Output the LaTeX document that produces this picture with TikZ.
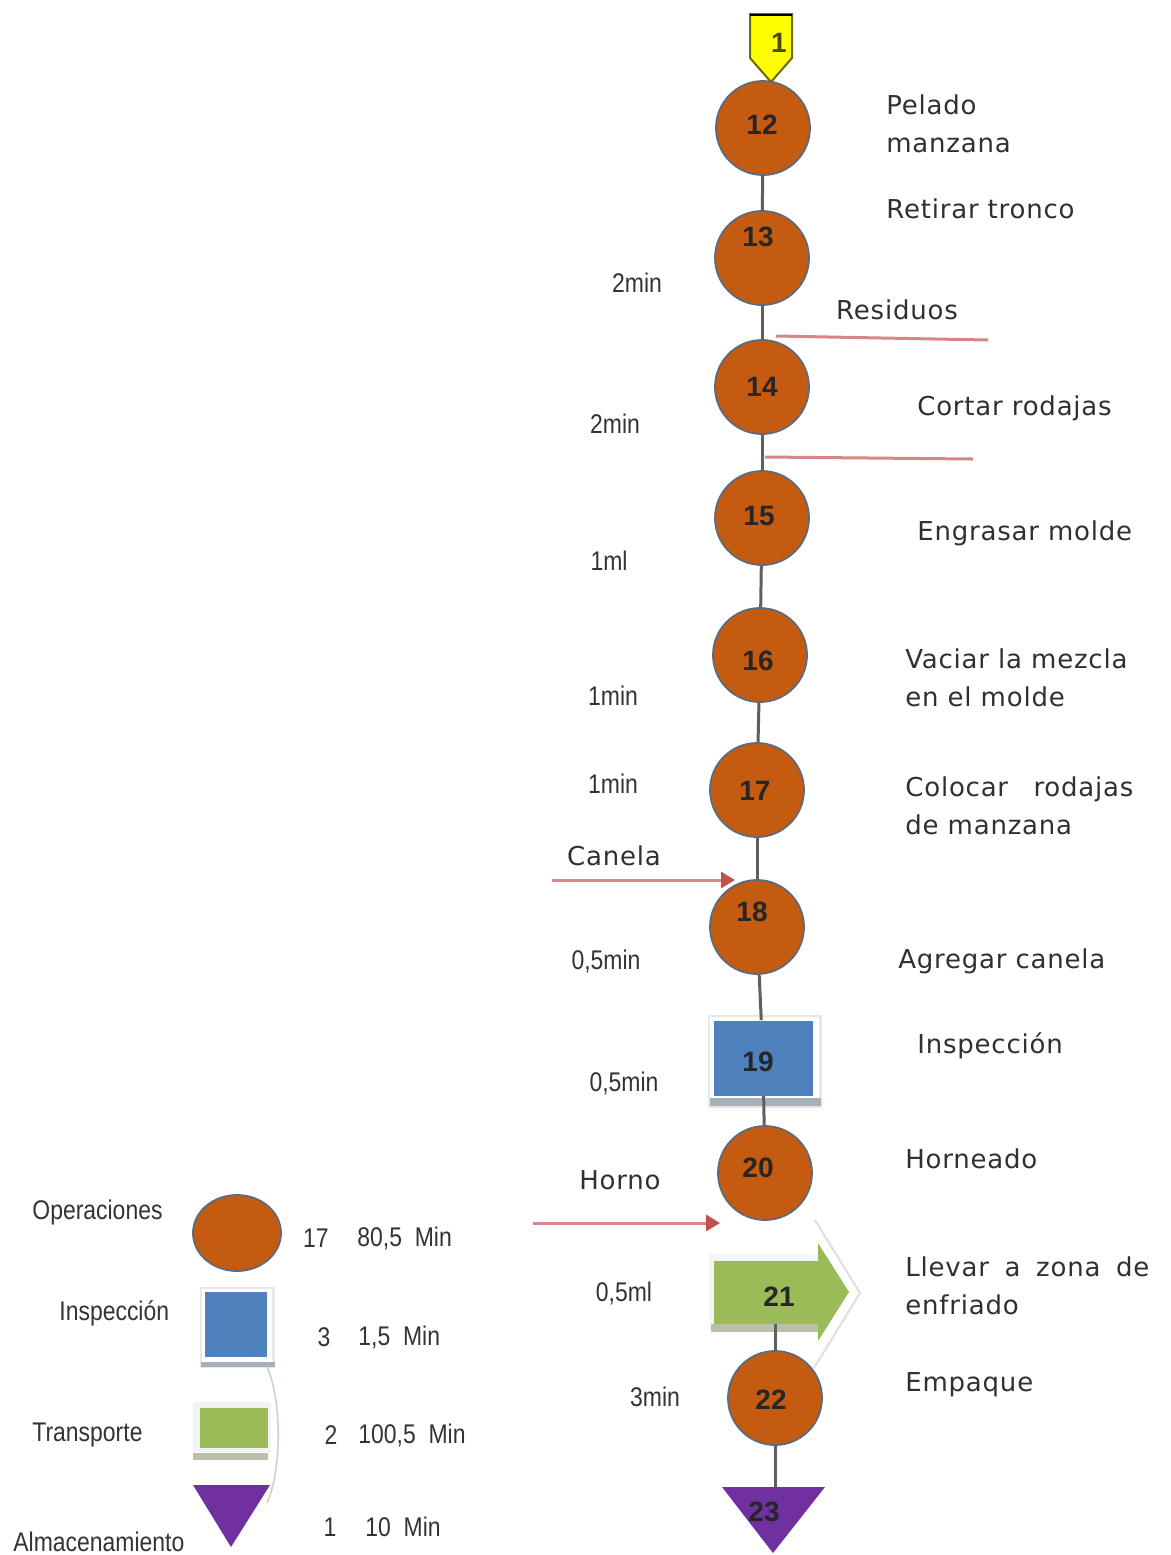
\documentclass[tikz,border=0pt]{standalone}
\usepackage{fontspec}
\setmainfont[LetterSpace=3]{DejaVu Sans}
\newfontfamily\narrowfont[FakeStretch=0.85]{Liberation Sans}
\newfontfamily\numfont{Liberation Sans}
\usetikzlibrary{arrows.meta,shapes.geometric}

\definecolor{opfill}{HTML}{C55A11}
\definecolor{opedge}{HTML}{5B6B7C}
\definecolor{inspblue}{HTML}{4F81BD}
\definecolor{trgreen}{HTML}{9BBB59}
\definecolor{stpurple}{HTML}{7030A0}
\definecolor{startyellow}{HTML}{FFFF00}
\definecolor{startedge}{HTML}{6B6B10}
\definecolor{flowgrey}{HTML}{5F5F5F}
\definecolor{inred}{HTML}{D98585}
\definecolor{tipred}{HTML}{C0504D}
\definecolor{txt}{HTML}{303030}
\definecolor{shadowblue}{HTML}{A7B1BE}
\definecolor{shadowgreen}{HTML}{B9C0A8}

\begin{document}
\begin{tikzpicture}[x=0.5pt,y=-0.5pt,
  op/.style={circle, fill=opfill, draw=opedge, line width=0.9pt,
    minimum size=47pt, inner sep=0pt},
  num/.style={font=\numfont\bfseries\fontsize{14}{14}\selectfont,
    text=black!85, inner sep=0pt},
  flow/.style={draw=flowgrey, line width=1.5pt},
  feed/.style={draw=inred, line width=1.5pt},
  feedarrow/.style={feed, -{Triangle[length=7pt,width=8pt,color=tipred]}},
  desc/.style={anchor=west, font=\fontsize{13}{19}\selectfont, text=txt,
    align=left, inner sep=0pt},
  note/.style={font=\fontsize{13}{16}\selectfont, text=txt, inner sep=0pt},
  time/.style={font=\narrowfont\fontsize{13.5}{14}\selectfont, text=black!80,
    inner sep=0pt},
  legtxt/.style={font=\narrowfont\fontsize{13.5}{14}\selectfont, text=black!80,
    inner sep=0pt},
  ghost/.style={draw=gray!25, line width=1pt}
]
\useasboundingbox[fill=white] (0,0) rectangle (1171,1555);

% ---- start marker ----
\draw[fill=startyellow, draw=startedge, line width=1pt]
  (750,14) -- (792,14) -- (792,58) -- (771,82) -- (750,58) -- cycle;
\draw[black, line width=1.2pt] (750,15) -- (792,15);
\node[num, text=startedge!70!black] (n1) at (779,43) {1};

% ---- operations ----
\node[op] (n12) at (763,128) {};
\node[num] (l12) at (762,125) {12};
\node[op] (n13) at (762,258) {};
\node[num] (l13) at (758,237) {13};
\node[op] (n14) at (762,387) {};
\node[num] (l14) at (762,387) {14};
\node[op] (n15) at (762,518) {};
\node[num] (l15) at (759,516) {15};
\node[op] (n16) at (760,655) {};
\node[num] (l16) at (758,661) {16};
\node[op] (n17) at (757,790) {};
\node[num] (l17) at (755,791) {17};
\node[op] (n18) at (757,927) {};
\node[num] (l18) at (752,912) {18};

% ---- inspection ----
\fill[gray!18] (708,1015) rectangle (822,1108);
\fill[white] (710,1017) rectangle (819,1099);
\fill[shadowblue] (710,1098) rectangle (821,1106);
\node[fill=inspblue, minimum width=49.5pt, minimum height=37.5pt,
  inner sep=0pt] (n19) at (763,1058) {};
\node[num] (l19) at (758,1062) {19};

\node[op] (n20) at (765,1173) {};
\node[num] (l20) at (758,1168) {20};

% ---- transport ----
\draw[ghost] (815,1220) -- (860,1293) -- (814,1368);
\fill[gray!8] (709,1254) rectangle (822,1330);
\fill[shadowgreen] (711,1324) rectangle (818,1332);
\node[fill=trgreen, minimum width=52.5pt, minimum height=31.5pt,
  inner sep=0pt] (n21) at (766,1292) {};
\fill[trgreen] (818,1243) -- (849,1292) -- (818,1341) -- cycle;
\node[num] (l21) at (779,1297) {21};

\node[op] (n22) at (775,1398) {};
\node[num] (l22) at (771,1400) {22};

% ---- storage ----
\fill[stpurple] (722,1487) -- (825,1487) -- (773,1553) -- cycle;
\coordinate (t23) at (775,1487);
\node[num] (n23) at (764,1512) {23};

% ---- flow line ----
\draw[flow] (n12) -- (n13);
\draw[flow] (n13) -- (n14);
\draw[flow] (n14) -- (n15);
\draw[flow] (n15) -- (n16);
\draw[flow] (n16) -- (n17);
\draw[flow] (n17) -- (n18);
\draw[flow] (n18) -- (n19);
\draw[flow] (n19) -- (n20);
\draw[flow] (n21.south -| n22.north) -- (n22.north);
\draw[flow] (n22) -- (t23);

% ---- inputs and outputs ----
\coordinate (res1) at (776,336);
\coordinate (res2) at (988,340);
\draw[feed] (res1) -- (res2);
\coordinate (cor1) at (765,457);
\coordinate (cor2) at (973,459);
\draw[feed] (cor1) -- (cor2);
\coordinate (can1) at (552,880);
\coordinate (can2) at (735,880);
\draw[feedarrow] (can1) -- (can2);
\coordinate (hor1) at (533,1223);
\coordinate (hor2) at (720,1223);
\draw[feedarrow] (hor1) -- (hor2);

\node[note] (tres) at (897,310) {Residuos};
\node[note] (tcan) at (614,856) {Canela};
\node[note] (thor) at (620,1180) {Horno};

% ---- step descriptions ----
\node[desc] (d12) at (886,124) {Pelado\\manzana};
\node[desc] (d13) at (886,209) {Retirar tronco};
\node[desc] (d14) at (917,408) {Cortar rodajas};
\node[desc] (d15) at (917,533) {Engrasar molde};
\node[desc] (d16) at (905,678) {Vaciar la mezcla\\en el molde};
\node[desc] (d17) at (905,806) {\makebox[114pt][s]{Colocar rodajas}\\de manzana};
\node[desc] (d18) at (898,961) {Agregar canela};
\node[desc] (d19) at (917,1046) {Inspección};
\node[desc] (d20) at (905,1159) {Horneado};
\node[desc] (d21) at (905,1286) {\makebox[122pt][s]{Llevar a zona de}\\enfriado};
\node[desc] (d22) at (905,1385) {Empaque};

% ---- times ----
\node[time] (m13) at (637,283) {2min};
\node[time] (m14) at (615,424) {2min};
\node[time] (m15) at (609,561) {1ml};
\node[time] (m16) at (613,696) {1min};
\node[time] (m17) at (613,784) {1min};
\node[time] (m18) at (606,961) {0,5min};
\node[time] (m19) at (624,1083) {0,5min};
\node[time] (m21) at (624,1293) {0,5ml};
\node[time] (m22) at (655,1397) {3min};

% ---- legend ----
\node[ellipse, fill=opfill, draw=opedge, line width=0.9pt,
  minimum width=44pt, minimum height=38pt, inner sep=0pt] (kop) at (237,1233) {};
\fill[gray!18] (200,1287) rectangle (275,1368);
\fill[white] (202,1289) rectangle (272,1362);
\fill[shadowblue] (201,1362) rectangle (275,1367);
\node[fill=inspblue, minimum width=31pt, minimum height=32.5pt,
  inner sep=0pt] (kin) at (236,1324) {};
\fill[gray!10] (193,1402) rectangle (271,1452);
\fill[shadowgreen] (193,1453) rectangle (268,1460);
\node[fill=trgreen, minimum width=34pt, minimum height=20pt,
  inner sep=0pt] (ktr) at (234,1428) {};
\draw[draw=shadowgreen!70, line width=0.8pt]
  (267,1367) .. controls (282,1400) and (282,1470) .. (267,1503);
\fill[stpurple] (193,1485) -- (270,1485) -- (231,1547) -- cycle;
\coordinate (kal) at (231,1510);

\node[legtxt, anchor=west] (kop-t) at (32,1213) {Operaciones};
\node[legtxt, anchor=west] (kin-t) at (59,1313) {Inspección};
\node[legtxt, anchor=west] (ktr-t) at (32,1435) {Transporte};
\node[legtxt, anchor=west] (kal-t) at (13,1542) {Almacenamiento};

\node[legtxt] (kop-n) at (316,1238) {17};
\node[legtxt, anchor=west] (kop-m) at (357,1238) {80,5\ \ Min};
\node[legtxt] (kin-n) at (324,1337) {3};
\node[legtxt, anchor=west] (kin-m) at (358,1337) {1,5\ \ Min};
\node[legtxt] (ktr-n) at (331,1435) {2};
\node[legtxt, anchor=west] (ktr-m) at (358,1435) {100,5\ \ Min};
\node[legtxt] (kal-n) at (330,1527) {1};
\node[legtxt, anchor=west] (kal-m) at (365,1527) {10\ \ Min};
\end{tikzpicture}
\end{document}
